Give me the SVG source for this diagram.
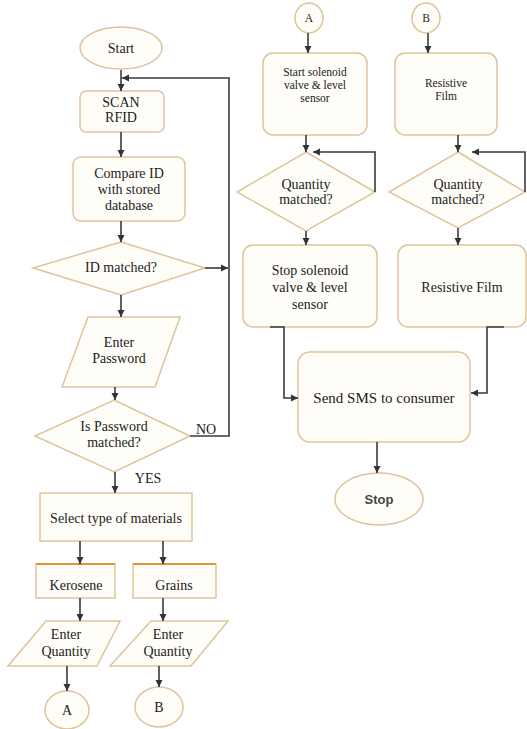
<svg xmlns="http://www.w3.org/2000/svg" width="527" height="729" viewBox="0 0 527 729">
<defs>
<marker id="ah" markerUnits="userSpaceOnUse" markerWidth="8" markerHeight="8" refX="7" refY="4" orient="auto">
<path d="M0,0.5 L7,4 L0,7.5 z" fill="#333"/>
</marker>
<style>
.s{fill:#fffdf8;stroke:#dfc39c;stroke-width:1.5}
.c{fill:none;stroke:#3a3a3a;stroke-width:1.6;marker-end:url(#ah)}
text{font-family:"Liberation Serif","Times New Roman",serif;font-size:14px;fill:#222;text-anchor:middle}
.sm{font-size:11.5px}
.st{font-family:"Liberation Sans",Arial,sans-serif;font-weight:bold;font-size:13px;fill:#444}
</style>
</defs>
<rect width="527" height="729" fill="#ffffff"/>

<g id="start"><ellipse class="s" cx="121" cy="48" rx="41" ry="21"/><text x="121" y="53">Start</text></g>
<g id="scan"><rect class="s" x="80" y="91" width="84" height="41" rx="6"/><text x="121" y="107">SCAN</text><text x="121" y="122">RFID</text></g>
<g id="compare"><rect class="s" x="73" y="157" width="112" height="64" rx="8"/><text x="129" y="178">Compare ID</text><text x="129" y="194">with stored</text><text x="129" y="210">database</text></g>
<g id="idmatched"><polygon class="s" points="121,242 205,268 121,295 33,268"/><text x="121" y="272">ID matched?</text></g>
<g id="enterpassword"><polygon class="s" points="88,317 180,317 155,387 62,387"/><text x="119" y="347">Enter</text><text x="119" y="363">Password</text></g>
<g id="pwmatched"><polygon class="s" points="114,400 190,436 114,472 35,436"/><text x="114" y="431">Is Password</text><text x="114" y="447">matched?</text></g>
<g id="select"><rect class="s" x="40" y="493" width="152" height="48"/><text x="116" y="523">Select type of materials</text></g>
<g id="kerosene"><rect class="s" x="36" y="564" width="79" height="34"/><line x1="36" y1="564" x2="115" y2="564" stroke="#e8923c" stroke-width="2"/><text x="76" y="590">Kerosene</text></g>
<g id="grains"><rect class="s" x="133" y="564" width="83" height="34"/><line x1="133" y1="564" x2="216" y2="564" stroke="#e8923c" stroke-width="2"/><text x="174" y="590">Grains</text></g>
<g id="enterqty1"><polygon class="s" points="46,621 120,621 97,666 8,666"/><text x="66" y="639">Enter</text><text x="66" y="656">Quantity</text></g>
<g id="enterqty2"><polygon class="s" points="151,621 228,621 191,666 110,666"/><text x="168" y="639">Enter</text><text x="168" y="656">Quantity</text></g>
<g id="connA1"><ellipse class="s" cx="67" cy="710" rx="22" ry="19"/><text x="67" y="715">A</text></g>
<g id="connB1"><ellipse class="s" cx="159" cy="707" rx="24" ry="20"/><text x="159" y="712">B</text></g>

<g id="connA2"><ellipse class="s" cx="309" cy="18" rx="14" ry="15"/><text class="sm" x="309" y="22">A</text></g>
<g id="startsolenoid"><rect class="s" x="263" y="53" width="104" height="82" rx="10"/><text class="sm" x="315" y="76">Start solenoid</text><text class="sm" x="315" y="89">valve &amp; level</text><text class="sm" x="315" y="102">sensor</text></g>
<g id="qtyA"><polygon class="s" points="306,152 375,192 306,231 237,192"/><text x="306" y="189">Quantity</text><text x="306" y="204">matched?</text></g>
<g id="stopsolenoid"><rect class="s" x="243" y="245" width="134" height="82" rx="10"/><text x="310" y="275">Stop solenoid</text><text x="310" y="292">valve &amp; level</text><text x="310" y="309">sensor</text></g>

<g id="connB2"><ellipse class="s" cx="426" cy="18" rx="14" ry="15"/><text class="sm" x="426" y="22">B</text></g>
<g id="resistive1"><rect class="s" x="395" y="53" width="102" height="82" rx="10"/><text class="sm" x="446" y="87">Resistive</text><text class="sm" x="446" y="100">Film</text></g>
<g id="qtyB"><polygon class="s" points="458,152 525,192 458,228 389,192"/><text x="458" y="189">Quantity</text><text x="458" y="204">matched?</text></g>
<g id="resistive2"><rect class="s" x="398" y="245" width="128" height="82" rx="10"/><text x="462" y="292">Resistive Film</text></g>

<g id="sendsms"><rect class="s" x="298" y="352" width="172" height="90" rx="12"/><text x="384" y="403" style="font-size:15px">Send SMS to consumer</text></g>
<g id="stop"><ellipse class="s" cx="379" cy="499" rx="44" ry="26"/><text class="st" x="379" y="504">Stop</text></g>

<g id="connectors">
<line class="c" x1="121" y1="70" x2="121" y2="91"/>
<line class="c" x1="121" y1="132" x2="121" y2="157"/>
<line class="c" x1="121" y1="221" x2="121" y2="242"/>
<line class="c" x1="121" y1="295" x2="121" y2="317"/>
<line class="c" x1="115" y1="387" x2="115" y2="400"/>
<line class="c" x1="115" y1="472" x2="115" y2="493"/>
<line class="c" x1="205" y1="268" x2="228" y2="268"/>
<path class="c" d="M190,436 H229 V78 H122"/>
<line class="c" x1="80" y1="541" x2="80" y2="564"/>
<line class="c" x1="163" y1="541" x2="163" y2="564"/>
<line class="c" x1="80" y1="598" x2="80" y2="621"/>
<line class="c" x1="163" y1="598" x2="163" y2="621"/>
<line class="c" x1="67" y1="666" x2="67" y2="691"/>
<line class="c" x1="159" y1="666" x2="159" y2="687"/>
<line class="c" x1="308" y1="33" x2="308" y2="53"/>
<line class="c" x1="306" y1="135" x2="306" y2="152"/>
<path class="c" d="M375,192 V152 H313"/>
<line class="c" x1="306" y1="231" x2="306" y2="245"/>
<line class="c" x1="428" y1="33" x2="428" y2="53"/>
<line class="c" x1="458" y1="135" x2="458" y2="152"/>
<path class="c" d="M525,192 V152 H472"/>
<line class="c" x1="458" y1="228" x2="458" y2="245"/>
<path class="c" d="M270,327 H284 V398 H298"/>
<path class="c" d="M504,327 H487 V393 H471"/>
<line class="c" x1="377" y1="442" x2="377" y2="473"/>
</g>
<text x="206" y="434">NO</text>
<text x="148" y="483">YES</text>
</svg>
